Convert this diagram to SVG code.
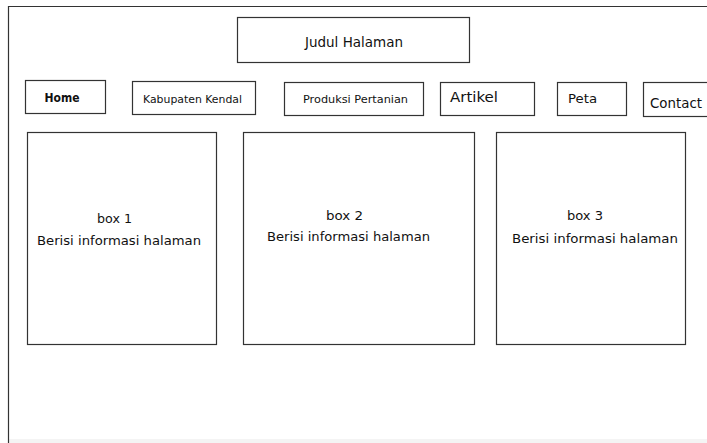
<svg xmlns="http://www.w3.org/2000/svg" width="707" height="443" viewBox="0 0 707 443">
<style>
.box{fill:#fff;stroke:#333;stroke-width:1.2}
.t{font-family:"DejaVu Sans","Liberation Sans",sans-serif;fill:#111;text-anchor:middle}
</style>
<rect x="0" y="0" width="707" height="443" fill="#fff"/>
<rect x="9" y="439" width="698" height="4" fill="#f4f4f4"/>
<g id="frame"><path d="M8.5,443 V6.5 H707" fill="none" stroke="#333" stroke-width="1.2"/></g>
<g id="title"><rect class="box" x="237.5" y="17.5" width="232" height="45"/><text class="t" x="354" y="47" font-size="13.5" textLength="98" lengthAdjust="spacingAndGlyphs">Judul Halaman</text></g>
<g id="nav-home"><rect class="box" x="25.5" y="80.5" width="80" height="33"/><text class="t" x="62" y="102" font-size="13" font-weight="bold" textLength="35" lengthAdjust="spacingAndGlyphs">Home</text></g>
<g id="nav-kabupaten"><rect class="box" x="132.5" y="81.5" width="123" height="33"/><text class="t" x="192.5" y="103" font-size="11" textLength="99" lengthAdjust="spacingAndGlyphs">Kabupaten Kendal</text></g>
<g id="nav-produksi"><rect class="box" x="284.5" y="82.5" width="139" height="33"/><text class="t" x="355.5" y="103" font-size="11" textLength="105" lengthAdjust="spacingAndGlyphs">Produksi Pertanian</text></g>
<g id="nav-artikel"><rect class="box" x="440.5" y="82.5" width="94" height="33"/><text class="t" x="474" y="102" font-size="14" textLength="48" lengthAdjust="spacingAndGlyphs">Artikel</text></g>
<g id="nav-peta"><rect class="box" x="557.5" y="82.5" width="69" height="33"/><text class="t" x="582.5" y="103" font-size="13" textLength="29" lengthAdjust="spacingAndGlyphs">Peta</text></g>
<g id="nav-contact"><rect class="box" x="643.5" y="82.5" width="70" height="34"/><text class="t" x="676" y="108" font-size="14" textLength="52" lengthAdjust="spacingAndGlyphs">Contact</text></g>
<g id="box1"><rect class="box" x="27.5" y="132.5" width="189" height="212"/><text class="t" x="114.5" y="223" font-size="13" textLength="35" lengthAdjust="spacingAndGlyphs">box 1</text><text class="t" x="119" y="245" font-size="13" textLength="164" lengthAdjust="spacingAndGlyphs">Berisi informasi halaman</text></g>
<g id="box2"><rect class="box" x="243.5" y="132.5" width="231" height="212"/><text class="t" x="344.5" y="220" font-size="13" textLength="37" lengthAdjust="spacingAndGlyphs">box 2</text><text class="t" x="348.5" y="241" font-size="13" textLength="163" lengthAdjust="spacingAndGlyphs">Berisi informasi halaman</text></g>
<g id="box3"><rect class="box" x="496.5" y="132.5" width="189" height="212"/><text class="t" x="585" y="220" font-size="13" textLength="36" lengthAdjust="spacingAndGlyphs">box 3</text><text class="t" x="595" y="243" font-size="13" textLength="166" lengthAdjust="spacingAndGlyphs">Berisi informasi halaman</text></g>
<g id="connectors"/>
</svg>
